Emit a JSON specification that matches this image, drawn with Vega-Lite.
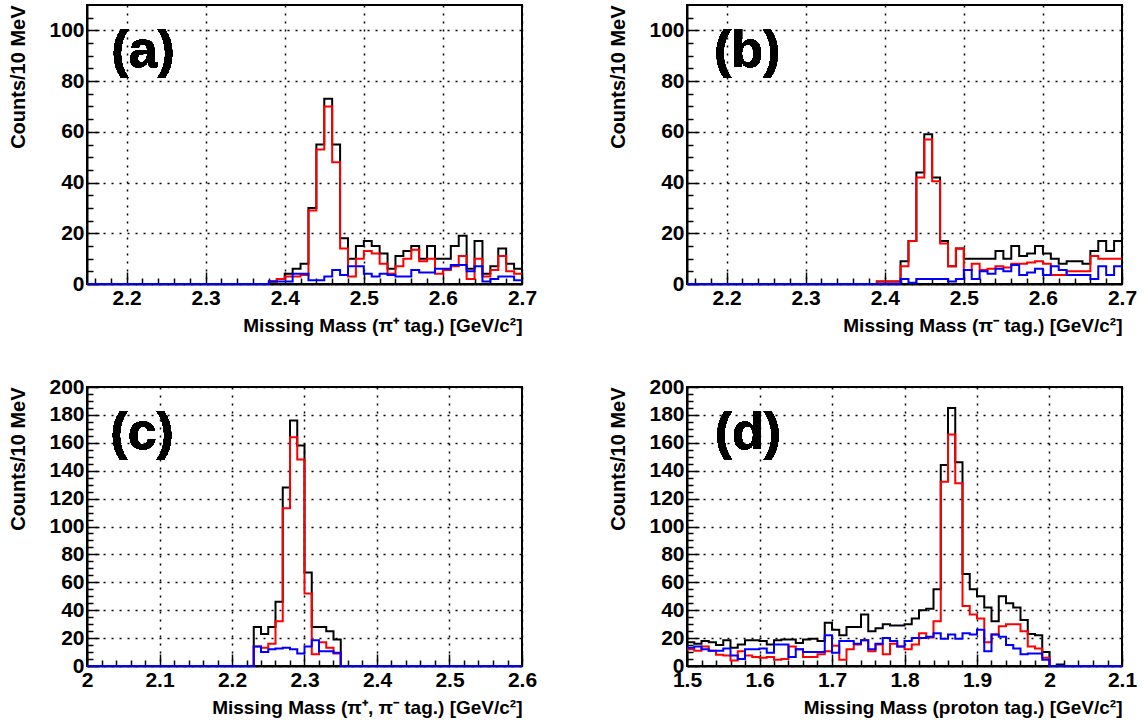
{
  "$schema": "https://vega.github.io/schema/vega-lite/v6.json",
  "background": "white",
  "padding": {"left": 7, "top": 3, "right": 5, "bottom": 5},
  "config": {
    "view": {"stroke": "black", "strokeWidth": 2},
    "font": "Liberation Sans",
    "axis": {
      "domainColor": "black", "domainWidth": 2,
      "tickColor": "black", "tickWidth": 1.5,
      "gridColor": "black", "gridDash": [2, 6], "gridWidth": 1.5,
      "labelFont": "Liberation Sans", "labelFontWeight": "bold", "labelFontSize": 21, "labelColor": "black",
      "titleFont": "Liberation Sans", "titleFontWeight": "bold", "titleFontSize": 19, "titleColor": "black",
      "labelOverlap": false, "labelFlush": false, "labelPadding": 15, "titleAnchor": "end"
    },
    "axisY": {"titlePadding": 20, "titleFontSize": 20},
    "axisX": {"titlePadding": 2}
  },
  "datasets": {
    "a": [
      {"mass":2.15,"black":0,"red":0,"blue":0},{"mass":2.16,"black":0,"red":0,"blue":0},{"mass":2.17,"black":0,"red":0,"blue":0},{"mass":2.18,"black":0,"red":0,"blue":0},{"mass":2.19,"black":0,"red":0,"blue":0},
      {"mass":2.2,"black":0,"red":0,"blue":0},{"mass":2.21,"black":0,"red":0,"blue":0},{"mass":2.22,"black":0,"red":0,"blue":0},{"mass":2.23,"black":0,"red":0,"blue":0},{"mass":2.24,"black":0,"red":0,"blue":0},
      {"mass":2.25,"black":0,"red":0,"blue":0},{"mass":2.26,"black":0,"red":0,"blue":0},{"mass":2.27,"black":0,"red":0,"blue":0},{"mass":2.28,"black":0,"red":0,"blue":0},{"mass":2.29,"black":0,"red":0,"blue":0},
      {"mass":2.3,"black":0,"red":0,"blue":0},{"mass":2.31,"black":0,"red":0,"blue":0},{"mass":2.32,"black":0,"red":0,"blue":0},{"mass":2.33,"black":0,"red":0,"blue":0},{"mass":2.34,"black":0,"red":0,"blue":0},
      {"mass":2.35,"black":0,"red":0,"blue":0},{"mass":2.36,"black":0,"red":0,"blue":0},{"mass":2.37,"black":0,"red":0,"blue":0},
      {"mass":2.38,"black":1,"red":1,"blue":1},{"mass":2.39,"black":2,"red":2,"blue":1},{"mass":2.4,"black":4,"red":3,"blue":1},
      {"mass":2.41,"black":6,"red":3,"blue":4},{"mass":2.42,"black":8,"red":3.5,"blue":4},{"mass":2.43,"black":30,"red":29,"blue":1.5},
      {"mass":2.44,"black":55,"red":53,"blue":1.5},{"mass":2.45,"black":73,"red":70,"blue":3},{"mass":2.46,"black":55,"red":48,"blue":5.5},
      {"mass":2.47,"black":18,"red":14,"blue":3.5},{"mass":2.48,"black":10,"red":3,"blue":7},{"mass":2.49,"black":15,"red":10,"blue":7},
      {"mass":2.5,"black":17,"red":13,"blue":4},{"mass":2.51,"black":15,"red":12,"blue":3},{"mass":2.52,"black":12,"red":8,"blue":4},
      {"mass":2.53,"black":6,"red":4,"blue":3.5},{"mass":2.54,"black":11,"red":7,"blue":3},{"mass":2.55,"black":13,"red":10,"blue":3},
      {"mass":2.56,"black":15,"red":13.5,"blue":5.5},{"mass":2.57,"black":10,"red":9,"blue":4.5},{"mass":2.58,"black":15,"red":10,"blue":4.5},
      {"mass":2.59,"black":10,"red":4,"blue":6},{"mass":2.6,"black":10,"red":5.5,"blue":6},{"mass":2.61,"black":15,"red":7,"blue":7.5},
      {"mass":2.62,"black":19,"red":11,"blue":7.5},{"mass":2.63,"black":6,"red":2,"blue":5},{"mass":2.64,"black":17,"red":10,"blue":7},
      {"mass":2.65,"black":4,"red":3,"blue":1},{"mass":2.66,"black":7,"red":5.5,"blue":2},{"mass":2.67,"black":14,"red":11,"blue":3},
      {"mass":2.68,"black":8,"red":5,"blue":3},{"mass":2.69,"black":6,"red":4,"blue":1.5},{"mass":2.7,"black":6,"red":4,"blue":1.5}
    ],
    "b": [
      {"mass":2.15,"black":0,"red":0,"blue":0},{"mass":2.16,"black":0,"red":0,"blue":0},{"mass":2.17,"black":0,"red":0,"blue":0},{"mass":2.18,"black":0,"red":0,"blue":0},{"mass":2.19,"black":0,"red":0,"blue":0},
      {"mass":2.2,"black":0,"red":0,"blue":0},{"mass":2.21,"black":0,"red":0,"blue":0},{"mass":2.22,"black":0,"red":0,"blue":0},{"mass":2.23,"black":0,"red":0,"blue":0},{"mass":2.24,"black":0,"red":0,"blue":0},
      {"mass":2.25,"black":0,"red":0,"blue":0},{"mass":2.26,"black":0,"red":0,"blue":0},{"mass":2.27,"black":0,"red":0,"blue":0},{"mass":2.28,"black":0,"red":0,"blue":0},{"mass":2.29,"black":0,"red":0,"blue":0},
      {"mass":2.3,"black":0,"red":0,"blue":0},{"mass":2.31,"black":0,"red":0,"blue":0},{"mass":2.32,"black":0,"red":0,"blue":0},{"mass":2.33,"black":0,"red":0,"blue":0},{"mass":2.34,"black":0,"red":0,"blue":0},
      {"mass":2.35,"black":0,"red":0,"blue":0},{"mass":2.36,"black":0,"red":0,"blue":0},{"mass":2.37,"black":0,"red":0,"blue":0},{"mass":2.38,"black":0,"red":0,"blue":0},
      {"mass":2.39,"black":1,"red":1,"blue":0},{"mass":2.4,"black":1,"red":1,"blue":0},{"mass":2.41,"black":1,"red":1,"blue":0},
      {"mass":2.42,"black":9,"red":7,"blue":2},{"mass":2.43,"black":17,"red":17,"blue":0.5},{"mass":2.44,"black":44,"red":42,"blue":2},
      {"mass":2.45,"black":59,"red":57,"blue":2},{"mass":2.46,"black":42,"red":40.5,"blue":2},{"mass":2.47,"black":17,"red":16,"blue":2},
      {"mass":2.48,"black":7,"red":7,"blue":1},{"mass":2.49,"black":14,"red":14,"blue":2},{"mass":2.5,"black":10,"red":5.5,"blue":5.5},
      {"mass":2.51,"black":10,"red":8,"blue":2},{"mass":2.52,"black":10,"red":5.5,"blue":5},{"mass":2.53,"black":10,"red":6,"blue":4},
      {"mass":2.54,"black":13,"red":7,"blue":6},{"mass":2.55,"black":10,"red":6.5,"blue":5},{"mass":2.56,"black":15,"red":8,"blue":7.5},
      {"mass":2.57,"black":11,"red":8,"blue":3.5},{"mass":2.58,"black":12,"red":8.5,"blue":4.5},{"mass":2.59,"black":15,"red":9,"blue":6},
      {"mass":2.6,"black":12,"red":8,"blue":3.5},{"mass":2.61,"black":10,"red":3.5,"blue":7},{"mass":2.62,"black":8,"red":3.5,"blue":5.5},
      {"mass":2.63,"black":9,"red":5,"blue":3.5},{"mass":2.64,"black":9,"red":5,"blue":3.5},{"mass":2.65,"black":8,"red":5,"blue":3.5},
      {"mass":2.66,"black":13,"red":11,"blue":2},{"mass":2.67,"black":17,"red":10,"blue":7},{"mass":2.68,"black":13,"red":10,"blue":3.5},
      {"mass":2.69,"black":17,"red":10,"blue":7},{"mass":2.7,"black":17,"red":10,"blue":7}
    ],
    "c": [
      {"mass":2.0,"black":0,"red":0,"blue":0},{"mass":2.01,"black":0,"red":0,"blue":0},{"mass":2.02,"black":0,"red":0,"blue":0},{"mass":2.03,"black":0,"red":0,"blue":0},{"mass":2.04,"black":0,"red":0,"blue":0},
      {"mass":2.05,"black":0,"red":0,"blue":0},{"mass":2.06,"black":0,"red":0,"blue":0},{"mass":2.07,"black":0,"red":0,"blue":0},{"mass":2.08,"black":0,"red":0,"blue":0},{"mass":2.09,"black":0,"red":0,"blue":0},
      {"mass":2.1,"black":0,"red":0,"blue":0},{"mass":2.11,"black":0,"red":0,"blue":0},{"mass":2.12,"black":0,"red":0,"blue":0},{"mass":2.13,"black":0,"red":0,"blue":0},{"mass":2.14,"black":0,"red":0,"blue":0},
      {"mass":2.15,"black":0,"red":0,"blue":0},{"mass":2.16,"black":0,"red":0,"blue":0},{"mass":2.17,"black":0,"red":0,"blue":0},{"mass":2.18,"black":0,"red":0,"blue":0},{"mass":2.19,"black":0,"red":0,"blue":0},
      {"mass":2.2,"black":0,"red":0,"blue":0},{"mass":2.21,"black":0,"red":0,"blue":0},{"mass":2.22,"black":0,"red":0,"blue":0},
      {"mass":2.23,"black":28,"red":14,"blue":14},{"mass":2.24,"black":23,"red":13,"blue":10},{"mass":2.25,"black":28,"red":16,"blue":12},
      {"mass":2.26,"black":46,"red":32,"blue":12.5},{"mass":2.27,"black":128,"red":113,"blue":13},{"mass":2.28,"black":176,"red":164,"blue":12},
      {"mass":2.29,"black":158,"red":148,"blue":9},{"mass":2.3,"black":67,"red":52,"blue":14},{"mass":2.31,"black":28,"red":8.5,"blue":18.5},
      {"mass":2.32,"black":28,"red":17,"blue":10.5},{"mass":2.33,"black":25,"red":13,"blue":10.5},{"mass":2.34,"black":19,"red":9,"blue":9.5},
      {"mass":2.35,"black":0,"red":0,"blue":0},{"mass":2.36,"black":0,"red":0,"blue":0},{"mass":2.37,"black":0,"red":0,"blue":0},{"mass":2.38,"black":0,"red":0,"blue":0},{"mass":2.39,"black":0,"red":0,"blue":0},
      {"mass":2.4,"black":0,"red":0,"blue":0},{"mass":2.41,"black":0,"red":0,"blue":0},{"mass":2.42,"black":0,"red":0,"blue":0},{"mass":2.43,"black":0,"red":0,"blue":0},{"mass":2.44,"black":0,"red":0,"blue":0},
      {"mass":2.45,"black":0,"red":0,"blue":0},{"mass":2.46,"black":0,"red":0,"blue":0},{"mass":2.47,"black":0,"red":0,"blue":0},{"mass":2.48,"black":0,"red":0,"blue":0},{"mass":2.49,"black":0,"red":0,"blue":0},
      {"mass":2.5,"black":0,"red":0,"blue":0},{"mass":2.51,"black":0,"red":0,"blue":0},{"mass":2.52,"black":0,"red":0,"blue":0},{"mass":2.53,"black":0,"red":0,"blue":0},{"mass":2.54,"black":0,"red":0,"blue":0},
      {"mass":2.55,"black":0,"red":0,"blue":0},{"mass":2.56,"black":0,"red":0,"blue":0},{"mass":2.57,"black":0,"red":0,"blue":0},{"mass":2.58,"black":0,"red":0,"blue":0},{"mass":2.59,"black":0,"red":0,"blue":0},
      {"mass":2.6,"black":0,"red":0,"blue":0}
    ],
    "d": [
      {"mass":1.5,"black":17,"red":12,"blue":13},{"mass":1.51,"black":16,"red":11,"blue":14},{"mass":1.52,"black":18,"red":14,"blue":12},
      {"mass":1.53,"black":17,"red":11,"blue":11},{"mass":1.54,"black":15,"red":8,"blue":11},{"mass":1.55,"black":18.5,"red":7.5,"blue":12.5},
      {"mass":1.56,"black":13,"red":4,"blue":7.5},{"mass":1.57,"black":15.5,"red":10.5,"blue":5},{"mass":1.58,"black":18.5,"red":7.5,"blue":12},
      {"mass":1.59,"black":18.5,"red":6.5,"blue":12},{"mass":1.6,"black":18,"red":6,"blue":12.5},{"mass":1.61,"black":15.5,"red":6.5,"blue":9.5},
      {"mass":1.62,"black":18.5,"red":4.5,"blue":15.5},{"mass":1.63,"black":19,"red":5,"blue":15.5},{"mass":1.64,"black":19,"red":14,"blue":6.5},
      {"mass":1.65,"black":16.5,"red":12,"blue":12},{"mass":1.66,"black":19,"red":6.5,"blue":10},{"mass":1.67,"black":19.5,"red":6.5,"blue":10},
      {"mass":1.68,"black":18,"red":8.5,"blue":10},{"mass":1.69,"black":31,"red":10.5,"blue":22},{"mass":1.7,"black":26,"red":14.5,"blue":9.5},
      {"mass":1.71,"black":22,"red":4.5,"blue":18},{"mass":1.72,"black":28,"red":12,"blue":18},{"mass":1.73,"black":28,"red":15.5,"blue":16},
      {"mass":1.74,"black":37,"red":18.5,"blue":18.5},{"mass":1.75,"black":25,"red":10.5,"blue":12},{"mass":1.76,"black":27,"red":15.5,"blue":16},
      {"mass":1.77,"black":30,"red":8.5,"blue":20},{"mass":1.78,"black":29,"red":16,"blue":18},{"mass":1.79,"black":29,"red":14,"blue":14},
      {"mass":1.8,"black":30,"red":12,"blue":18},{"mass":1.81,"black":34,"red":15.5,"blue":20},{"mass":1.82,"black":40,"red":23.5,"blue":20},
      {"mass":1.83,"black":41,"red":20.5,"blue":21},{"mass":1.84,"black":55,"red":32,"blue":23.5},{"mass":1.85,"black":144,"red":132,"blue":19.5},
      {"mass":1.86,"black":185,"red":166,"blue":22.5},{"mass":1.87,"black":146,"red":131,"blue":19.5},{"mass":1.88,"black":66,"red":43,"blue":23.5},
      {"mass":1.89,"black":55,"red":37,"blue":22.5},{"mass":1.9,"black":50,"red":34,"blue":26},{"mass":1.91,"black":42,"red":17,"blue":10.5},
      {"mass":1.92,"black":32,"red":22.5,"blue":22.5},{"mass":1.93,"black":50,"red":28.5,"blue":21},{"mass":1.94,"black":45,"red":30,"blue":15},
      {"mass":1.95,"black":42,"red":30,"blue":12.5},{"mass":1.96,"black":33,"red":25,"blue":8.5},{"mass":1.97,"black":23,"red":14,"blue":9},
      {"mass":1.98,"black":22,"red":12.5,"blue":9},{"mass":1.99,"black":10,"red":6,"blue":4.5},{"mass":2.0,"black":0,"red":0,"blue":0},
      {"mass":2.01,"black":1,"red":0,"blue":0},{"mass":2.02,"black":0,"red":0,"blue":0},{"mass":2.03,"black":0,"red":0,"blue":0},
      {"mass":2.04,"black":0,"red":0,"blue":0},{"mass":2.05,"black":0,"red":0,"blue":0},{"mass":2.06,"black":0,"red":0,"blue":0},
      {"mass":2.07,"black":0,"red":0,"blue":0},{"mass":2.08,"black":0,"red":0,"blue":0},{"mass":2.09,"black":0,"red":0,"blue":0},
      {"mass":2.1,"black":0,"red":0,"blue":0}
    ]
  },
  "concat": [
    {
      "width": 435, "height": 279,
      "data": {"name": "a"},
      "encoding": {
        "x": {"field": "mass", "type": "quantitative",
          "scale": {"domain": [2.15, 2.7], "nice": false, "zero": false},
          "axis": {"title": "Missing Mass (π⁺ tag.) [GeV/c²]", "labelOverlap": false, "tickCount": 100,
            "values": [2.16,2.18,2.2,2.22,2.24,2.26,2.28,2.3,2.32,2.34,2.36,2.38,2.4,2.42,2.44,2.46,2.48,2.5,2.52,2.54,2.56,2.58,2.6,2.62,2.64,2.66,2.68,2.7],
            "labelExpr": "abs(datum.value*10-round(datum.value*10))<0.001 ? format(datum.value,'~g') : ''",
            "tickSize": {"condition": {"test": "abs(datum.value*10-round(datum.value*10))<0.001", "value": -12}, "value": -6},
            "gridOpacity": {"condition": {"test": "abs(datum.value*10-round(datum.value*10))<0.001", "value": 1}, "value": 0}}}
      },
      "layer": [
        {"mark": {"type": "line", "interpolate": "step-after", "color": "black", "strokeWidth": 2},
         "encoding": {"y": {"field": "black", "type": "quantitative",
           "scale": {"domain": [0, 110], "nice": false},
           "axis": {"title": "Counts/10 MeV", "labelOverlap": false, "tickCount": 100,
             "values": [0,5,10,15,20,25,30,35,40,45,50,55,60,65,70,75,80,85,90,95,100,105],
             "labelExpr": "datum.value % 20 === 0 ? datum.label : ''",
             "tickSize": {"condition": {"test": "datum.value % 20 === 0", "value": -12}, "value": -6},
             "gridOpacity": {"condition": {"test": "datum.value % 20 === 0", "value": 1}, "value": 0}}}}},
        {"mark": {"type": "line", "interpolate": "step-after", "color": "#ff0000", "strokeWidth": 2},
         "encoding": {"y": {"field": "red", "type": "quantitative", "title": "Counts/10 MeV", "axis": {"tickCount": 100}}}},
        {"mark": {"type": "line", "interpolate": "step-after", "color": "#0000ff", "strokeWidth": 2},
         "encoding": {"y": {"field": "blue", "type": "quantitative", "title": "Counts/10 MeV", "axis": {"tickCount": 100}}}},
        {"mark": {"type": "text", "font": "Liberation Sans", "fontWeight": "bold", "fontSize": 52, "align": "center", "baseline": "middle", "color": "black"},
         "encoding": {"x": {"datum": 2.221}, "y": {"datum": 92}, "text": {"value": "(a)"}}}
      ]
    },
    {
      "width": 435, "height": 279,
      "data": {"name": "b"},
      "encoding": {
        "x": {"field": "mass", "type": "quantitative",
          "scale": {"domain": [2.15, 2.7], "nice": false, "zero": false},
          "axis": {"title": "Missing Mass (π⁻ tag.) [GeV/c²]", "labelOverlap": false, "tickCount": 100,
            "values": [2.16,2.18,2.2,2.22,2.24,2.26,2.28,2.3,2.32,2.34,2.36,2.38,2.4,2.42,2.44,2.46,2.48,2.5,2.52,2.54,2.56,2.58,2.6,2.62,2.64,2.66,2.68,2.7],
            "labelExpr": "abs(datum.value*10-round(datum.value*10))<0.001 ? format(datum.value,'~g') : ''",
            "tickSize": {"condition": {"test": "abs(datum.value*10-round(datum.value*10))<0.001", "value": -12}, "value": -6},
            "gridOpacity": {"condition": {"test": "abs(datum.value*10-round(datum.value*10))<0.001", "value": 1}, "value": 0}}}
      },
      "layer": [
        {"mark": {"type": "line", "interpolate": "step-after", "color": "black", "strokeWidth": 2},
         "encoding": {"y": {"field": "black", "type": "quantitative",
           "scale": {"domain": [0, 110], "nice": false},
           "axis": {"title": "Counts/10 MeV", "labelOverlap": false, "tickCount": 100,
             "values": [0,5,10,15,20,25,30,35,40,45,50,55,60,65,70,75,80,85,90,95,100,105],
             "labelExpr": "datum.value % 20 === 0 ? datum.label : ''",
             "tickSize": {"condition": {"test": "datum.value % 20 === 0", "value": -12}, "value": -6},
             "gridOpacity": {"condition": {"test": "datum.value % 20 === 0", "value": 1}, "value": 0}}}}},
        {"mark": {"type": "line", "interpolate": "step-after", "color": "#ff0000", "strokeWidth": 2},
         "encoding": {"y": {"field": "red", "type": "quantitative", "title": "Counts/10 MeV", "axis": {"tickCount": 100}}}},
        {"mark": {"type": "line", "interpolate": "step-after", "color": "#0000ff", "strokeWidth": 2},
         "encoding": {"y": {"field": "blue", "type": "quantitative", "title": "Counts/10 MeV", "axis": {"tickCount": 100}}}},
        {"mark": {"type": "text", "font": "Liberation Sans", "fontWeight": "bold", "fontSize": 52, "align": "center", "baseline": "middle", "color": "black"},
         "encoding": {"x": {"datum": 2.226}, "y": {"datum": 92}, "text": {"value": "(b)"}}}
      ]
    },
    {
      "width": 435, "height": 279,
      "data": {"name": "c"},
      "encoding": {
        "x": {"field": "mass", "type": "quantitative",
          "scale": {"domain": [2.0, 2.6], "nice": false, "zero": false},
          "axis": {"title": "Missing Mass (π⁺, π⁻ tag.) [GeV/c²]", "labelOverlap": false, "tickCount": 100,
            "values": [2,2.02,2.04,2.06,2.08,2.1,2.12,2.14,2.16,2.18,2.2,2.22,2.24,2.26,2.28,2.3,2.32,2.34,2.36,2.38,2.4,2.42,2.44,2.46,2.48,2.5,2.52,2.54,2.56,2.58,2.6],
            "labelExpr": "abs(datum.value*10-round(datum.value*10))<0.001 ? format(datum.value,'~g') : ''",
            "tickSize": {"condition": {"test": "abs(datum.value*10-round(datum.value*10))<0.001", "value": -12}, "value": -6},
            "gridOpacity": {"condition": {"test": "abs(datum.value*10-round(datum.value*10))<0.001", "value": 1}, "value": 0}}}
      },
      "layer": [
        {"mark": {"type": "line", "interpolate": "step-after", "color": "black", "strokeWidth": 2},
         "encoding": {"y": {"field": "black", "type": "quantitative",
           "scale": {"domain": [0, 200], "nice": false},
           "axis": {"title": "Counts/10 MeV", "labelOverlap": false, "tickCount": 100,
             "values": [0,5,10,15,20,25,30,35,40,45,50,55,60,65,70,75,80,85,90,95,100,105,110,115,120,125,130,135,140,145,150,155,160,165,170,175,180,185,190,195,200],
             "labelExpr": "datum.value % 20 === 0 ? datum.label : ''",
             "tickSize": {"condition": {"test": "datum.value % 20 === 0", "value": -12}, "value": -6},
             "gridOpacity": {"condition": {"test": "datum.value % 20 === 0", "value": 1}, "value": 0}}}}},
        {"mark": {"type": "line", "interpolate": "step-after", "color": "#ff0000", "strokeWidth": 2},
         "encoding": {"y": {"field": "red", "type": "quantitative", "title": "Counts/10 MeV", "axis": {"tickCount": 100}}}},
        {"mark": {"type": "line", "interpolate": "step-after", "color": "#0000ff", "strokeWidth": 2},
         "encoding": {"y": {"field": "blue", "type": "quantitative", "title": "Counts/10 MeV", "axis": {"tickCount": 100}}}},
        {"mark": {"type": "text", "font": "Liberation Sans", "fontWeight": "bold", "fontSize": 52, "align": "center", "baseline": "middle", "color": "black"},
         "encoding": {"x": {"datum": 2.076}, "y": {"datum": 167}, "text": {"value": "(c)"}}}
      ]
    },
    {
      "width": 435, "height": 279,
      "data": {"name": "d"},
      "encoding": {
        "x": {"field": "mass", "type": "quantitative",
          "scale": {"domain": [1.5, 2.1], "nice": false, "zero": false},
          "axis": {"title": "Missing Mass (proton tag.) [GeV/c²]", "labelOverlap": false, "tickCount": 100,
            "values": [1.5,1.52,1.54,1.56,1.58,1.6,1.62,1.64,1.66,1.68,1.7,1.72,1.74,1.76,1.78,1.8,1.82,1.84,1.86,1.88,1.9,1.92,1.94,1.96,1.98,2,2.02,2.04,2.06,2.08,2.1],
            "labelExpr": "abs(datum.value*10-round(datum.value*10))<0.001 ? format(datum.value,'~g') : ''",
            "tickSize": {"condition": {"test": "abs(datum.value*10-round(datum.value*10))<0.001", "value": -12}, "value": -6},
            "gridOpacity": {"condition": {"test": "abs(datum.value*10-round(datum.value*10))<0.001", "value": 1}, "value": 0}}}
      },
      "layer": [
        {"mark": {"type": "line", "interpolate": "step-after", "color": "black", "strokeWidth": 2},
         "encoding": {"y": {"field": "black", "type": "quantitative",
           "scale": {"domain": [0, 200], "nice": false},
           "axis": {"title": "Counts/10 MeV", "labelOverlap": false, "tickCount": 100,
             "values": [0,5,10,15,20,25,30,35,40,45,50,55,60,65,70,75,80,85,90,95,100,105,110,115,120,125,130,135,140,145,150,155,160,165,170,175,180,185,190,195,200],
             "labelExpr": "datum.value % 20 === 0 ? datum.label : ''",
             "tickSize": {"condition": {"test": "datum.value % 20 === 0", "value": -12}, "value": -6},
             "gridOpacity": {"condition": {"test": "datum.value % 20 === 0", "value": 1}, "value": 0}}}}},
        {"mark": {"type": "line", "interpolate": "step-after", "color": "#ff0000", "strokeWidth": 2},
         "encoding": {"y": {"field": "red", "type": "quantitative", "title": "Counts/10 MeV", "axis": {"tickCount": 100}}}},
        {"mark": {"type": "line", "interpolate": "step-after", "color": "#0000ff", "strokeWidth": 2},
         "encoding": {"y": {"field": "blue", "type": "quantitative", "title": "Counts/10 MeV", "axis": {"tickCount": 100}}}},
        {"mark": {"type": "text", "font": "Liberation Sans", "fontWeight": "bold", "fontSize": 52, "align": "center", "baseline": "middle", "color": "black"},
         "encoding": {"x": {"datum": 1.584}, "y": {"datum": 167}, "text": {"value": "(d)"}}}
      ]
    }
  ],
  "columns": 2,
  "spacing": {"row": 103, "column": 165},
  "bounds": "flush"
}
